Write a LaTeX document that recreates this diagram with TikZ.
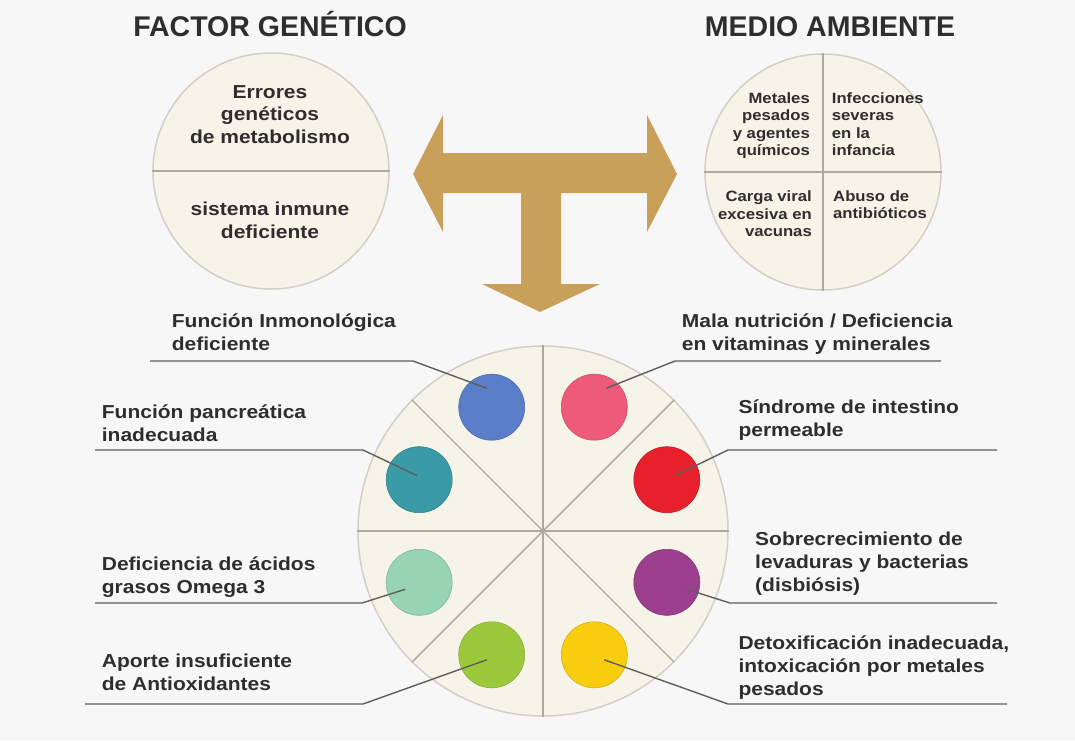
\documentclass[tikz,border=0pt]{standalone}
\usepackage{fontspec}
\setmainfont{Liberation Sans}
\newfontfamily\widefont{Liberation Sans}[FakeStretch=1.12]
\definecolor{paper}{HTML}{F7F7F7}
\definecolor{cream}{HTML}{F6F4E8}
\definecolor{rim}{HTML}{D2D0C6}
\definecolor{split}{HTML}{ABA9A0}
\definecolor{ink}{HTML}{2E2E2E}
\definecolor{leadcol}{HTML}{5E5E5E}
\definecolor{gold}{HTML}{C9A05A}
\definecolor{dotblue}{HTML}{5A7EC8}
\definecolor{dotpink}{HTML}{EE5B7A}
\definecolor{dotteal}{HTML}{3A9BA6}
\definecolor{dotred}{HTML}{E8202B}
\definecolor{dotmint}{HTML}{96D4B2}
\definecolor{dotpurple}{HTML}{9C3F8E}
\definecolor{dotlime}{HTML}{9CC93B}
\definecolor{dotyellow}{HTML}{F8CD0E}
\begin{document}
\begin{tikzpicture}[x=1pt, y=-1pt,
    heading/.style={font=\fontsize{28.5}{30}\selectfont\bfseries, text=ink, inner sep=0pt, anchor=base},
    lbl/.style={font=\widefont\fontsize{18.75}{23}\selectfont\bfseries, text=ink, align=left, inner sep=0pt, anchor=base west},
    inlbl/.style={font=\widefont\fontsize{18.75}{22.5}\selectfont\bfseries, text=ink, align=center, inner sep=0pt, anchor=base},
    smalllbl/.style={font=\widefont\fontsize{14.9}{17.3}\selectfont\bfseries, text=ink, inner sep=0pt},
    disc/.style={circle, draw=rim, line width=1.5pt, fill=cream, inner sep=0pt, minimum size=#1},
    dot/.style={circle, fill=#1, draw=#1!85!black, line width=0.6pt, inner sep=0pt, minimum size=66pt},
    leader/.style={draw=leadcol, line width=1.4pt},
    divider/.style={draw=split, line width=1.4pt}]
    \fill[paper] (0,0) rectangle (1075,740);
    \useasboundingbox (0,0) rectangle (1075,740);

    % titles
    \node[heading] (tgen) at (270,36) {FACTOR GENÉTICO};
    \node[heading] (tamb) at (830,36) {MEDIO AMBIENTE};

    % upper circles
    \node[disc=236pt] (gen) at (271,171) {};
    \draw[divider] (gen.west) -- (gen.east);
    \node[disc=236pt] (amb) at (823,172) {};
    \draw[divider] (amb.west) -- (amb.east);
    \draw[divider] (amb.north) -- (amb.south);

    % base of a multi-line node = its last line
    \node[inlbl] (errores) at (270,143.4) {Errores\\genéticos\\de metabolismo};
    \node[inlbl] (inmune) at (270,238.4) {sistema inmune\\deficiente};
    \node[smalllbl, align=right, anchor=base east] (metales) at (810,155.3) {Metales\\pesados\\y agentes\\químicos};
    \node[smalllbl, align=left, anchor=base west] (infec) at (831.7,155.3) {Infecciones\\severas\\en la\\infancia};
    \node[smalllbl, align=right, anchor=base east] (carga) at (812,236.3) {Carga viral\\excesiva en\\vacunas};
    \node[smalllbl, align=left, anchor=base west] (abuso) at (833,218.6) {Abuso de\\antibióticos};

    % T arrow
    \fill[gold] (413,174) -- (443,115) -- (443,153) -- (647,153) -- (647,115) -- (677,174)
        -- (647,232) -- (647,193) -- (561,193) -- (561,284) -- (600,284) -- (540,312)
        -- (482,284) -- (521,284) -- (521,193) -- (443,193) -- (443,232) -- cycle;

    % wheel
    \node[disc=370pt] (hub) at (543,531) {};
    \draw[divider] (hub.north) -- (hub.south);
    \draw[divider] (hub.west) -- (hub.east);
    \draw[divider] (hub.45) -- (hub.225);
    \draw[divider] (hub.135) -- (hub.315);

    \node[dot=dotblue] (dInmuno) at (491.7,407.2) {};
    \node[dot=dotpink] (dNutri) at (594.3,407.2) {};
    \node[dot=dotteal] (dPancreas) at (419.2,479.7) {};
    \node[dot=dotred] (dIntestino) at (666.8,479.7) {};
    \node[dot=dotmint] (dOmega) at (419.2,582.3) {};
    \node[dot=dotpurple] (dDisbiosis) at (666.8,582.3) {};
    \node[dot=dotlime] (dAntiox) at (491.7,654.8) {};
    \node[dot=dotyellow] (dDetox) at (594.3,654.8) {};

    % leader lines
    \coordinate (bInmuno) at (413,361);
    \coordinate (eInmuno) at (150,361);
    \coordinate (bPancreas) at (363,450);
    \coordinate (ePancreas) at (95,450);
    \coordinate (bOmega) at (362,603);
    \coordinate (eOmega) at (95,603);
    \coordinate (bAntiox) at (363,704);
    \coordinate (eAntiox) at (85,704);
    \coordinate (bNutri) at (675,361);
    \coordinate (eNutri) at (941,361);
    \coordinate (bIntestino) at (728,450);
    \coordinate (eIntestino) at (997,450);
    \coordinate (bDisbiosis) at (730,603);
    \coordinate (eDisbiosis) at (997,603);
    \coordinate (bDetox) at (728,704);
    \coordinate (eDetox) at (1007,704);

    \draw[leader] ([shift={(-5,-19)}]dInmuno.center) -- (bInmuno) -- (eInmuno);
    \draw[leader] ([shift={(-2,-4)}]dPancreas.center) -- (bPancreas) -- (ePancreas);
    \draw[leader] ([shift={(-14,7)}]dOmega.center) -- (bOmega) -- (eOmega);
    \draw[leader] ([shift={(-5,5)}]dAntiox.center) -- (bAntiox) -- (eAntiox);
    \draw[leader] ([shift={(12,-19)}]dNutri.center) -- (bNutri) -- (eNutri);
    \draw[leader] ([shift={(8,-4)}]dIntestino.center) -- (bIntestino) -- (eIntestino);
    \draw[leader] ([shift={(20,7)}]dDisbiosis.center) -- (bDisbiosis) -- (eDisbiosis);
    \draw[leader] ([shift={(10,5)}]dDetox.center) -- (bDetox) -- (eDetox);

    % labels
    \node[lbl] (lInmuno) at (171.7,350.4) {Función Inmonológica\\deficiente};
    \node[lbl] (lPancreas) at (101.7,441.7) {Función pancreática\\inadecuada};
    \node[lbl] (lOmega) at (101.7,593.4) {Deficiencia de ácidos\\grasos Omega 3};
    \node[lbl] (lAntiox) at (101.7,690) {Aporte insuficiente\\de Antioxidantes};
    \node[lbl] (lNutri) at (681.7,350.4) {Mala nutrición / Deficiencia\\en vitaminas y minerales};
    \node[lbl] (lIntestino) at (738.3,436.7) {Síndrome de intestino\\permeable};
    \node[lbl] (lDisbiosis) at (755,591) {Sobrecrecimiento de\\levaduras y bacterias\\(disbiósis)};
    \node[lbl] (lDetox) at (738.3,695.7) {Detoxificación inadecuada,\\intoxicación por metales\\pesados};
\end{tikzpicture}
\end{document}
